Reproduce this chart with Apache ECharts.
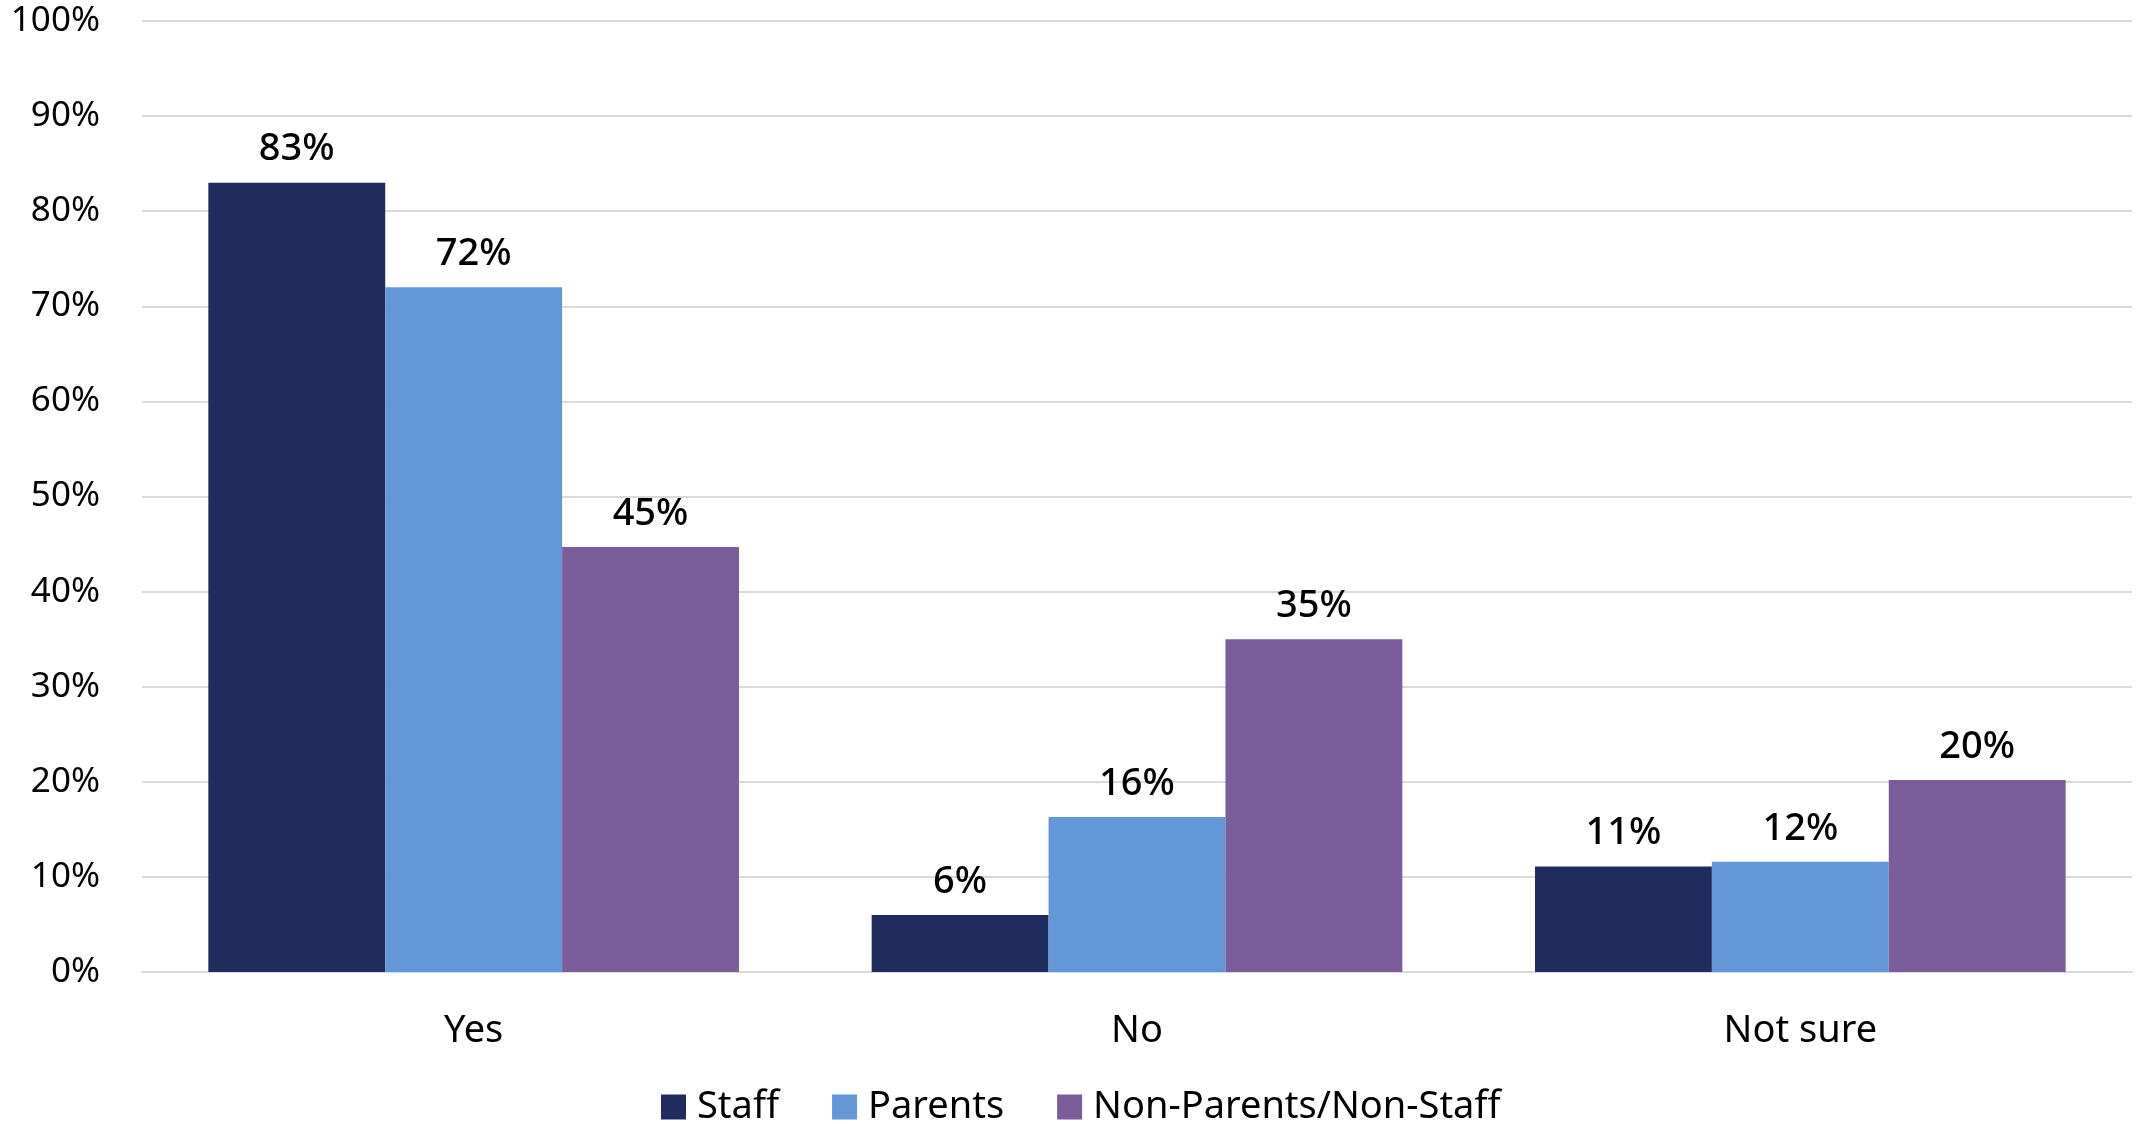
<!DOCTYPE html>
<html><head><meta charset="utf-8">
<script src="https://cdn.jsdelivr.net/npm/echarts@6/dist/echarts.min.js"></script>
<style>html,body{margin:0;padding:0;background:#fff}#c{width:2136px;height:1124px}</style>
</head><body><div id="c"></div>
<script>
const categories = ['Yes', 'No', 'Not sure'];
const seriesNames = ['Staff', 'Parents', 'Non-Parents/Non-Staff'];
const staff = [83, 6, 11.1];
const parents = [72, 16.3, 11.6];
const nonParents = [44.7, 35, 20.2];
const yTicks = [0, 10, 20, 30, 40, 50, 60, 70, 80, 90, 100];
const colors = ['#212C5E', '#6497D8', '#7B5D9C'];

const FONT = '"Noto Sans", sans-serif';
const chart = echarts.init(document.getElementById('c'));
const mk = (name, data, i) => ({
  name, type: 'bar', data, barGap: '0%', barCategoryGap: '20%',
  itemStyle: { color: colors[i] },
  label: { show: true, position: 'top', distance: 14, color: '#000', fontFamily: FONT,
    fontSize: 38, fontWeight: 500, formatter: p => Math.round(p.value) + '%' }
});
chart.setOption({
  animation: false,
  textStyle: { fontFamily: FONT },
  grid: { left: 142, right: 4, top: 21, bottom: 152, containLabel: false },
  legend: {
    left: 661, top: 1088, padding: 0, itemWidth: 25, itemHeight: 25, itemGap: 53,
    icon: 'rect', textStyle: { fontSize: 38, color: '#000', fontFamily: FONT, padding: [0, 0, 0, 6] },
    data: seriesNames
  },
  xAxis: {
    type: 'category', data: categories,
    axisLine: { lineStyle: { color: '#D9D9D9', width: 2 } },
    axisTick: { show: false },
    axisLabel: { fontSize: 38, color: '#000', margin: 40, fontFamily: FONT }
  },
  yAxis: {
    type: 'value', min: yTicks[0], max: yTicks[yTicks.length - 1], interval: 10,
    axisLine: { show: false }, axisTick: { show: false },
    splitLine: { lineStyle: { color: '#D9D9D9', width: 2 } },
    axisLabel: { fontSize: 35, color: '#000', margin: 42, fontFamily: FONT, formatter: v => v + '%' }
  },
  series: [mk(seriesNames[0], staff, 0), mk(seriesNames[1], parents, 1), mk(seriesNames[2], nonParents, 2)]
});
</script></body></html>
